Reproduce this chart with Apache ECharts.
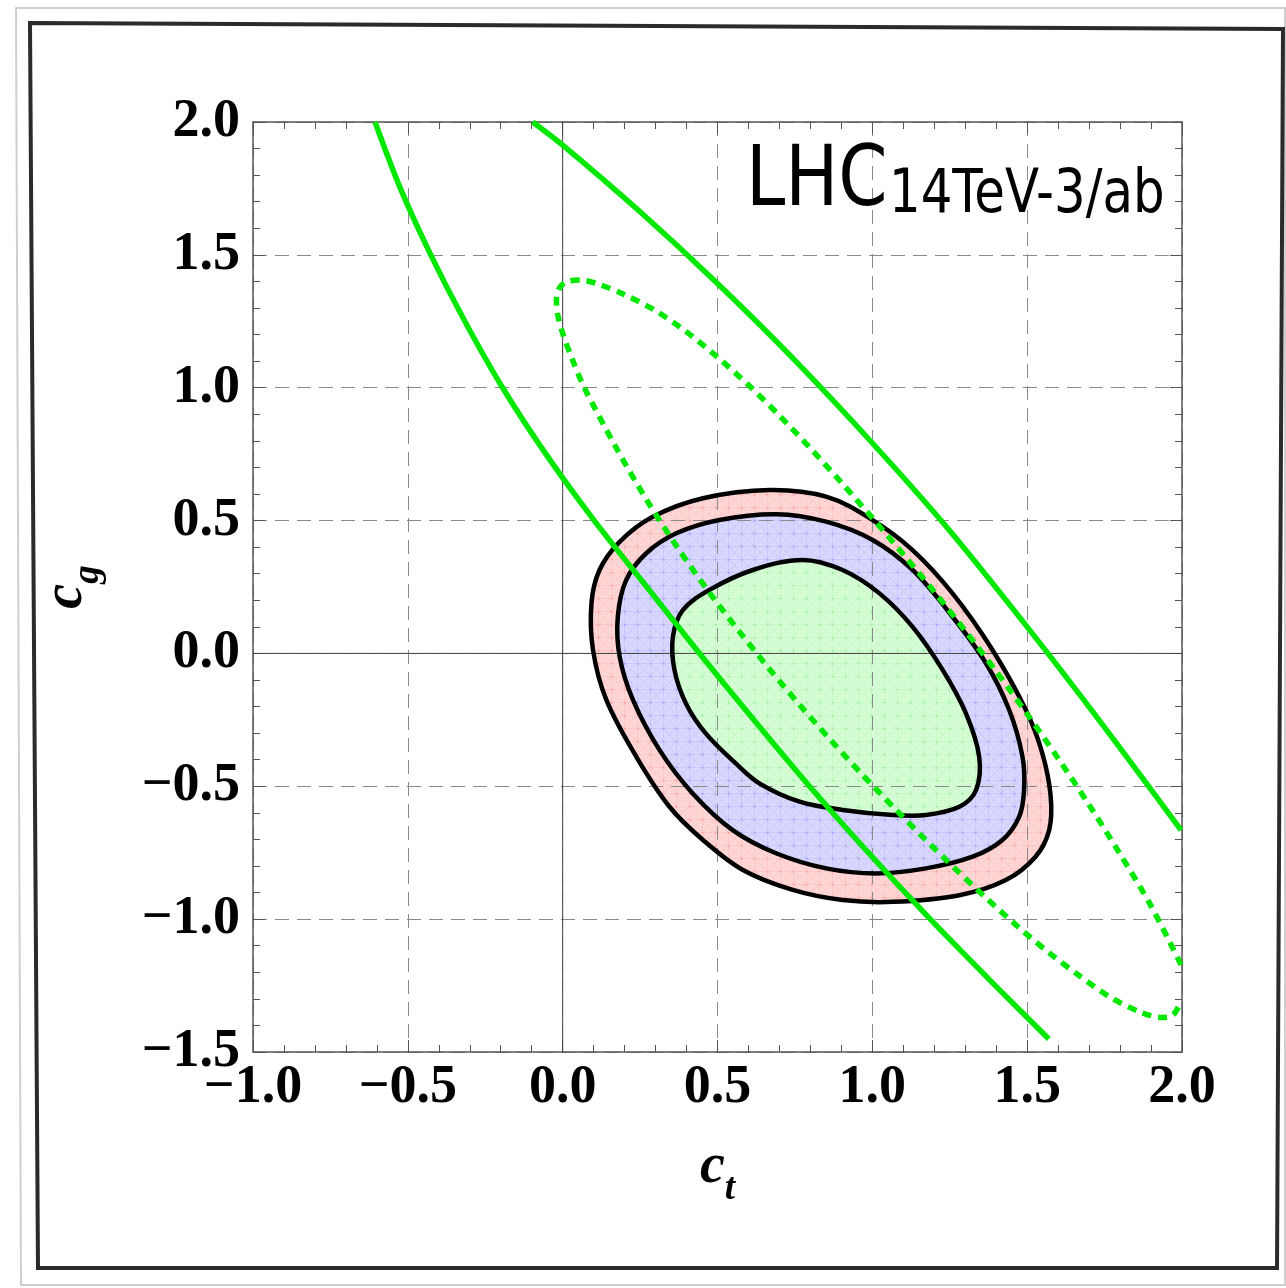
<!DOCTYPE html>
<html><head><meta charset="utf-8">
<script src="https://cdn.jsdelivr.net/npm/echarts@6/dist/echarts.min.js"></script>
<style>html,body{margin:0;padding:0;background:#fff}#c{width:1286px;height:1288px}</style>
</head><body><div id="c"></div>
<script>
// ---- tick labels ----
const xTickValues = [-1.0, -0.5, 0.0, 0.5, 1.0, 1.5, 2.0];
const xTickLabels = ['\u22121.0', '\u22120.5', '0.0', '0.5', '1.0', '1.5', '2.0'];
const yTickValues = [-1.5, -1.0, -0.5, 0.0, 0.5, 1.0, 1.5, 2.0];
const yTickLabels = ['\u22121.5', '\u22121.0', '\u22120.5', '0.0', '0.5', '1.0', '1.5', '2.0'];

// ---- contour regions [ct, cg] ----
const regionOuter = [
  [0.668, 0.615], [0.851, 0.590], [1.001, 0.502], [1.130, 0.389], [1.259, 0.226],
  [1.388, 0.013], [1.496, -0.213], [1.549, -0.376], [1.576, -0.539], [1.571, -0.665],
  [1.527, -0.765], [1.431, -0.853], [1.281, -0.910], [1.066, -0.935], [0.904, -0.928],
  [0.743, -0.890], [0.582, -0.815], [0.453, -0.702], [0.345, -0.577], [0.238, -0.389],
  [0.141, -0.175], [0.098, 0.013], [0.093, 0.189], [0.119, 0.314], [0.184, 0.420],
  [0.291, 0.514], [0.453, 0.584]
];
const regionMiddle = [
  [0.689, 0.524], [0.851, 0.496], [1.001, 0.427], [1.130, 0.314], [1.259, 0.138],
  [1.367, -0.037], [1.442, -0.213], [1.485, -0.389], [1.490, -0.514], [1.474, -0.615],
  [1.420, -0.702], [1.324, -0.765], [1.173, -0.809], [1.012, -0.828], [0.851, -0.809],
  [0.689, -0.752], [0.549, -0.665], [0.420, -0.527], [0.313, -0.364], [0.227, -0.175],
  [0.184, -0.012], [0.178, 0.138], [0.205, 0.276], [0.270, 0.377], [0.367, 0.452],
  [0.506, 0.502]
];
const regionInner = [
  [0.775, 0.352], [0.904, 0.314], [1.023, 0.226], [1.130, 0.100], [1.227, -0.062],
  [1.302, -0.225], [1.345, -0.389], [1.335, -0.514], [1.281, -0.577], [1.173, -0.608],
  [1.066, -0.608], [0.904, -0.589], [0.765, -0.558], [0.635, -0.489], [0.559, -0.414],
  [0.462, -0.301], [0.398, -0.188], [0.361, -0.062], [0.356, 0.063], [0.388, 0.163],
  [0.474, 0.239], [0.614, 0.314]
];

// ---- green bands [ct, cg] ----
const bandLower = [
  [-0.606, 2.0], [-0.524, 1.75], [-0.426, 1.5], [-0.316, 1.25], [-0.194, 1.0],
  [-0.054, 0.75], [0.102, 0.5], [0.272, 0.25], [0.442, 0.0], [0.617, -0.25],
  [0.797, -0.5], [0.987, -0.75], [1.187, -1.0], [1.397, -1.25], [1.570, -1.451]
];
const bandUpper = [
  [-0.097, 2.0], [0.0, 1.913], [0.25, 1.662], [0.5, 1.392], [0.75, 1.103],
  [1.0, 0.792], [1.25, 0.462], [1.5, 0.100], [1.75, -0.278], [1.997, -0.665]
];
const ellipseDashed = [
  [1.997, -1.172], [1.900, -0.950], [1.800, -0.755], [1.700, -0.570], [1.600, -0.395],
  [1.500, -0.228], [1.400, -0.068], [1.300, 0.085], [1.200, 0.232], [1.100, 0.373],
  [1.000, 0.510], [0.900, 0.643], [0.800, 0.772], [0.700, 0.895], [0.600, 1.010],
  [0.500, 1.115], [0.400, 1.210], [0.300, 1.290], [0.200, 1.350], [0.120, 1.388],
  [0.060, 1.405], [0.010, 1.398], [-0.012, 1.372], [-0.020, 1.330], [-0.016, 1.275],
  [0.000, 1.205], [0.030, 1.110], [0.070, 1.000], [0.170, 0.780], [0.270, 0.580],
  [0.370, 0.400], [0.470, 0.235], [0.570, 0.083], [0.670, -0.062], [0.770, -0.200],
  [0.870, -0.332], [0.970, -0.459], [1.070, -0.581], [1.170, -0.699], [1.270, -0.813],
  [1.370, -0.923], [1.470, -1.028], [1.570, -1.126], [1.670, -1.214], [1.770, -1.295],
  [1.870, -1.352], [1.930, -1.370], [1.970, -1.362], [1.997, -1.310]
];
const zeroH = [[-1.0, 0.0], [2.0, 0.0]];
const zeroV = [[0.0, -1.5], [0.0, 2.0]];

function meshPattern(base, line, dot) {
  const T = 13;
  const cv = document.createElement('canvas');
  cv.width = T; cv.height = T;
  const ctx = cv.getContext('2d');
  ctx.fillStyle = base; ctx.fillRect(0, 0, T, T);
  ctx.strokeStyle = line; ctx.lineWidth = 0.8;
  ctx.beginPath();
  ctx.moveTo(0.5, 0); ctx.lineTo(0.5, T);
  ctx.moveTo(0, 0.5); ctx.lineTo(T, 0.5);
  ctx.moveTo(0, 0); ctx.lineTo(T, T);
  ctx.moveTo(T, 0); ctx.lineTo(0, T);
  ctx.stroke();
  ctx.fillStyle = dot;
  ctx.beginPath(); ctx.arc(0.5, 0.5, 1.0, 0, Math.PI * 2); ctx.fill();
  return { image: cv, repeat: 'repeat' };
}
const FILL_OUTER = meshPattern('#ffd6d6', '#ffc2c2', '#ff9a9a');
const FILL_MIDDLE = meshPattern('#d8d8ff', '#c4c4ff', '#9a9aff');
const FILL_INNER = meshPattern('#d6fcd6', '#c0f7c0', '#8eec8e');
const GREEN = '#00e800';

function polyFill(points, fill) {
  return {
    type: 'custom', coordinateSystem: 'cartesian2d', silent: true, z: 1, clip: true,
    data: [points[0]],
    renderItem: function (params, api) {
      const pts = points.map(p => api.coord(p));
      return { type: 'polygon', shape: { points: pts, smooth: 0.35 }, style: { fill: fill, stroke: 'none' } };
    }
  };
}
function polyStroke(points) {
  return {
    type: 'custom', coordinateSystem: 'cartesian2d', silent: true, z: 4, clip: true,
    data: [points[0]],
    renderItem: function (params, api) {
      const pts = points.map(p => api.coord(p));
      return { type: 'polygon', shape: { points: pts, smooth: 0.35 }, style: { fill: 'none', stroke: '#000', lineWidth: 4.5 } };
    }
  };
}
function lineS(data, color, width, type, z, smooth) {
  return {
    type: 'line', data: data, showSymbol: false, symbol: 'none', smooth: smooth, clip: true, z: z, silent: true,
    lineStyle: { color: color, width: width, type: type }
  };
}

const labelFont = { color: '#000', fontFamily: 'Liberation Serif', fontWeight: 'bold', fontSize: 54 };
const tickColor = '#555';
const nameRich = {
  c: { fontFamily: 'Liberation Serif', fontStyle: 'italic', fontWeight: 'bold', fontSize: 56, color: '#000', padding: [0, 0, 12, 0] },
  s: { fontFamily: 'Liberation Serif', fontStyle: 'italic', fontWeight: 'bold', fontSize: 37, color: '#000', verticalAlign: 'bottom' }
};

function lookup(vals, labels) {
  return function (v) {
    for (let i = 0; i < vals.length; i++) if (Math.abs(vals[i] - v) < 1e-6) return labels[i];
    return '';
  };
}

const baseAxis = {
  type: 'value', z: 3,
  axisLine: { show: true, onZero: false, lineStyle: { color: tickColor, width: 1.5 } },
  axisTick: { show: true, inside: true, length: 12, lineStyle: { color: tickColor, width: 1 } },
  minorTick: { show: true, splitNumber: 5, length: 7, lineStyle: { color: tickColor, width: 1 } }
};

const option = {
  animation: false,
  backgroundColor: '#fff',
  grid: { left: 253, top: 122, right: 104, bottom: 236, containLabel: false },
  xAxis: [
    Object.assign({}, baseAxis, {
      min: -1, max: 2, interval: 0.5, position: 'bottom',
      splitLine: { show: true, lineStyle: { color: '#8a8a8a', width: 1, type: [14, 8] } },
      axisLabel: Object.assign({ margin: 9, formatter: lookup(xTickValues, xTickLabels) }, labelFont),
      name: '{c|c}{s|t}', nameLocation: 'middle', nameGap: 88,
      nameTextStyle: { rich: nameRich }
    }),
    Object.assign({}, baseAxis, {
      min: -1, max: 2, interval: 0.5, position: 'top',
      splitLine: { show: false }, axisLabel: { show: false }
    })
  ],
  yAxis: [
    Object.assign({}, baseAxis, {
      min: -1.5, max: 2, interval: 0.5, position: 'left',
      splitLine: { show: true, lineStyle: { color: '#8a8a8a', width: 1, type: [14, 8] } },
      axisLabel: Object.assign({ margin: 13, formatter: lookup(yTickValues, yTickLabels) }, labelFont),
      name: '{c|c}{s|g}', nameLocation: 'middle', nameGap: 146,
      nameTextStyle: { rich: nameRich }
    }),
    Object.assign({}, baseAxis, {
      min: -1.5, max: 2, interval: 0.5, position: 'right',
      splitLine: { show: false }, axisLabel: { show: false }
    })
  ],
  series: [
    polyFill(regionOuter, FILL_OUTER),
    polyFill(regionMiddle, FILL_MIDDLE),
    polyFill(regionInner, FILL_INNER),
    lineS(zeroH, '#444', 1, 'solid', 3.5, false),
    lineS(zeroV, '#444', 1, 'solid', 3.5, false),
    polyStroke(regionOuter),
    polyStroke(regionMiddle),
    polyStroke(regionInner),
    lineS(bandLower, GREEN, 5.5, 'solid', 5, 0.3),
    lineS(bandUpper, GREEN, 5.5, 'solid', 5, 0.3),
    lineS(ellipseDashed, GREEN, 5.5, [9, 7], 5, 0.3)
  ],
  graphic: [
    { type: 'polygon', silent: true, z: 0, shape: { points: [[16, 8], [1285, 8], [1285, 1285], [21, 1285]] },
      style: { fill: 'none', stroke: '#cfcfcf', lineWidth: 2 } },
    { type: 'polygon', silent: true, z: 0, shape: { points: [[30, 23], [1283, 29], [1277, 1268], [38, 1268]] },
      style: { fill: 'none', stroke: '#2b2b2b', lineWidth: 4 } },
    { type: 'text', silent: true, z: 10, x: 746, y: 225, scaleX: 0.84,
      style: { text: 'LHC', font: 'normal 84px "DejaVu Sans"', fill: '#000', verticalAlign: 'bottom', textVerticalAlign: 'bottom' } },
    { type: 'text', silent: true, z: 10, x: 889, y: 226, scaleX: 0.83,
      style: { text: '14TeV-3/ab', font: 'normal 60px "DejaVu Sans"', fill: '#000', verticalAlign: 'bottom', textVerticalAlign: 'bottom' } }
  ]
};

const chart = echarts.init(document.getElementById('c'), null, { renderer: 'canvas' });
chart.setOption(option);
</script>
</body></html>
